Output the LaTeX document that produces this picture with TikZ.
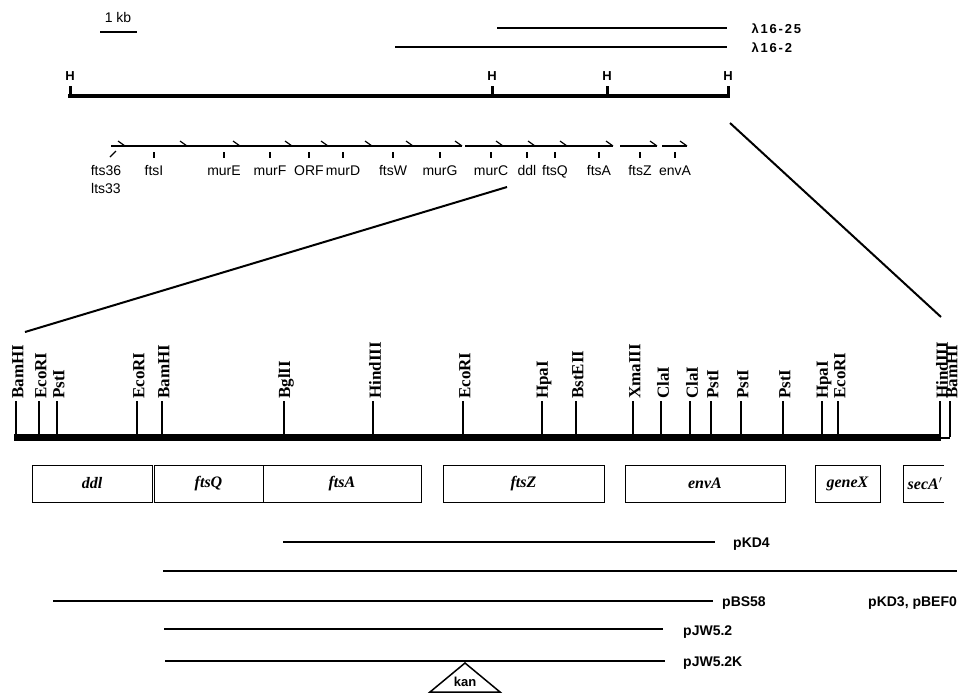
\documentclass[tikz,border=0pt]{standalone}
\usepackage{fontspec}
\setmainfont{Liberation Serif}
\setsansfont{Liberation Sans}
\newfontfamily\sitefont{Liberation Serif}
\newfontfamily\spacedfont[LetterSpace=14]{Liberation Sans}

\tikzset{
  sitetick/.style={line width=1.2pt},
  sitelabel/.style={rotate=90, anchor=west, inner sep=1pt, font=\sitefont\bfseries\fontsize{17}{17}\selectfont},
  genebox/.style={draw, line width=1pt, minimum height=37pt, inner sep=0pt, font=\bfseries\itshape\fontsize{16}{16}\selectfont},
  genelabel/.style={font=\sffamily\fontsize{14}{14}\selectfont, inner sep=0pt, anchor=base},
  clonelabel/.style={font=\sffamily\bfseries\fontsize{14}{14}\selectfont, anchor=west, inner sep=0pt},
  cloneline/.style={line width=2.6pt},
  barb/.style={line width=1.2pt}
}

\begin{document}
\begin{tikzpicture}[x=1pt, y=-1pt]
    \useasboundingbox (0,0) rectangle (969,694);

    % Define the scale bar and the lambda clones
    \coordinate (S1) at (100,32);
    \coordinate (S2) at (137,32);
    \draw[line width=1.5pt] (S1) -- (S2);
    \node[font=\sffamily\fontsize{14}{14}\selectfont] (kb) at (118,17) {1 kb};

    \coordinate (La1) at (497,28);
    \coordinate (La2) at (727,28);
    \coordinate (Lb1) at (395,47);
    \coordinate (Lb2) at (727,47);
    \draw[line width=2pt] (La1) -- (La2);
    \draw[line width=2pt] (Lb1) -- (Lb2);
    \node[font=\spacedfont\bfseries\fontsize{13}{13}\selectfont, anchor=west] (lam25) at (748,29) {λ16-25};
    \node[font=\spacedfont\bfseries\fontsize{13}{13}\selectfont, anchor=west] (lam2) at (748,48) {λ16-2};

    % Draw the HindIII map
    \coordinate (M1) at (68,96);
    \coordinate (M2) at (730,96);
    \draw[line width=3.5pt] (M1) -- (M2);
    \foreach \x [count=\i] in {70,492,607,728} {
        \draw[line width=3pt] (\x,86) -- (\x,96);
        \node[font=\sffamily\bfseries\fontsize{13}{13}\selectfont] (H\i) at (\x,76) {H};
    }

    % Draw the gene order with small barbs
    \draw[line width=1.3pt] (111,146) -- (462,146);
    \draw[line width=1.3pt] (465,146) -- (613,146);
    \draw[line width=1.3pt] (620,146) -- (657,146);
    \draw[line width=1.3pt] (662,146) -- (687,146);
    \foreach \x in {125,187,240,292,328,372,413,462,503,535,567,613,657,687}
        \draw[barb] (\x-7,141) -- (\x,146);
    \draw[line width=1.3pt] (110,157) -- (116,151);
    \node[genelabel] (fts36) at (106,175) {fts36};
    \node[genelabel] (lts33) at (106,193) {lts33};
    \foreach \x/\g in {154/ftsI,224/murE,270/murF,309/ORF,343/murD,393/ftsW,440/murG,491/murC,527/ddl,555/ftsQ,599/ftsA,640/ftsZ,675/envA} {
        \draw[line width=1.2pt] (\x,152) -- (\x,158);
        \node[genelabel] (g-\g) at (\x,175) {\g};
    }

    % Expansion lines
    \coordinate (ZL1) at (507,187);
    \coordinate (ZL2) at (25,332);
    \coordinate (ZR1) at (730,123);
    \coordinate (ZR2) at (941,317);
    \draw[line width=2pt] (ZL1) -- (ZL2);
    \draw[line width=2pt] (ZR1) -- (ZR2);

    % Draw the restriction map
    \coordinate (R1) at (14,437);
    \coordinate (R2) at (941,437);
    \draw[line width=7pt] (R1) -- (R2);
    \draw[line width=1.2pt] (940,438) -- (950,438);
    \foreach \x/\site [count=\i] in {16/BamHI,39/EcoRI,57/PstI,137/EcoRI,162/BamHI,284/BglII,373/HindIII,463/EcoRI,542/HpaI,576/BstEII,633/XmaIII,661/ClaI,690/ClaI,711/PstI,741/PstI,783/PstI,822/HpaI,838/EcoRI,940/HindIII,950/BamHI} {
        \draw[sitetick] (\x,401) -- (\x,437);
        \node[sitelabel] (site\i) at (\x+2,400) {\site};
    }

    % Draw the gene boxes
    \node[genebox, minimum width=120pt] (ddl) at (92,483.5) {ddl};
    \node[genebox, minimum width=109pt] (ftsQ) at (208.5,483.5) {ftsQ};
    \node[genebox, minimum width=158pt] (ftsA) at (342,483.5) {ftsA};
    \node[genebox, minimum width=161pt] (ftsZ) at (523.5,483.5) {ftsZ};
    \node[genebox, minimum width=160pt] (envA) at (705,483.5) {envA};
    \node[genebox, minimum width=65pt] (geneX) at (847.5,483.5) {geneX};
    \draw[line width=1pt] (944,465) -- (903,465) -- (903,502) -- (944,502);
    \node[font=\bfseries\itshape\fontsize{16}{16}\selectfont] (secA) at (925,483.5) {secA$'$};

    % Draw the subclones
    \coordinate (K4a) at (283,542);
    \coordinate (K4b) at (715,542);
    \draw[cloneline] (K4a) -- (K4b);
    \node[clonelabel] (pKD4) at (733,544) {pKD4};

    \coordinate (K3a) at (163,571);
    \coordinate (K3b) at (957,571);
    \draw[cloneline] (K3a) -- (K3b);
    \node[clonelabel] (pKD3) at (868,603) {pKD3, pBEF0};

    \coordinate (B58a) at (53,601);
    \coordinate (B58b) at (713,601);
    \draw[cloneline] (B58a) -- (B58b);
    \node[clonelabel] (pBS58) at (722,603) {pBS58};

    \coordinate (J52a) at (164,629);
    \coordinate (J52b) at (663,629);
    \draw[cloneline] (J52a) -- (J52b);
    \node[clonelabel] (pJW52) at (683,632) {pJW5.2};

    \coordinate (J5Ka) at (165,661);
    \coordinate (J5Kb) at (665,661);
    \draw[cloneline] (J5Ka) -- (J5Kb);
    \node[clonelabel] (pJW52K) at (683,663) {pJW5.2K};

    % Kanamycin cassette
    \coordinate (T1) at (430,692);
    \coordinate (T2) at (465,663);
    \coordinate (T3) at (500,692);
    \draw[line width=1.5pt, line join=miter] (T1) -- (T2) -- (T3) -- cycle;
    \node[font=\sffamily\bfseries\fontsize{13}{13}\selectfont] (kan) at (465,682) {kan};

\end{tikzpicture}
\end{document}
